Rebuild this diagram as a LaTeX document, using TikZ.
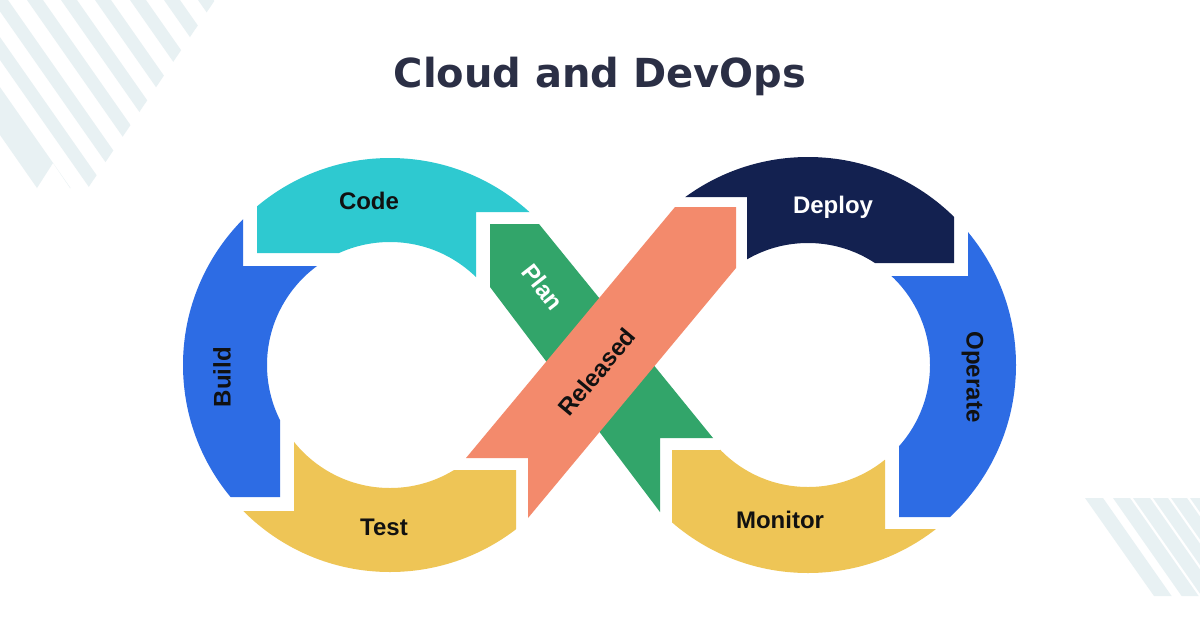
\documentclass[tikz,border=0pt]{standalone}
\usepackage{fontspec}
\setmainfont{Liberation Sans}
\newfontfamily\headfont{DejaVu Sans}
\usepackage{tikz}

\definecolor{stripe}{RGB}{232,241,243}
\definecolor{titleink}{RGB}{43,47,69}
\definecolor{labelink}{RGB}{17,17,17}
\definecolor{codecyan}{RGB}{46,201,208}
\definecolor{buildblue}{RGB}{45,108,228}
\definecolor{testyellow}{RGB}{238,197,86}
\definecolor{plangreen}{RGB}{50,165,106}
\definecolor{releasedorange}{RGB}{243,138,108}
\definecolor{deploynavy}{RGB}{19,33,80}

\begin{document}
\begin{tikzpicture}[x=1pt,y=-1pt]
\tikzset{every node/.style={inner sep=0pt}}
\tikzset{phase/.style={font=\bfseries\fontsize{24}{28}\selectfont,text=labelink,text height=17pt,text depth=0pt}}
\tikzset{ring/.style={even odd rule}}

\fill[white] (0,0) rectangle (1200,630);
\useasboundingbox (0,0) rectangle (1200,630);

% stripes in the corners
\begin{scope}
\clip (0,0) -- (215,0) -- (88,188) -- (70,188) -- (53,163) -- (37,188) -- (0,135) -- cycle;
\foreach \a/\b in {-95/-61,-42/-26,-8/8,27/43,61/77,95/111,130/146,164/180,198/214}
  \fill[stripe] (\a,0) -- (\b,0) -- ({\b+140},200) -- ({\a+140},200) -- cycle;
\end{scope}
\begin{scope}
\clip (1085,498) -- (1200,498) -- (1200,596) -- (1154,596) -- cycle;
\foreach \a/\b in {1085/1103,1113/1130,1133/1150,1153/1168,1171/1187,1190/1206}
  \fill[stripe] (\a,498) -- (\b,498) -- ({\b+70},598) -- ({\a+70},598) -- cycle;
\end{scope}

\node[anchor=base,font=\headfont\bfseries\fontsize{40}{48}\selectfont,text=titleink] (title) at (600,87) {Cloud and DevOps};

\coordinate (lc) at (390,365);
\coordinate (rc) at (808,365);

% left loop
\begin{scope}
\clip (257,100) -- (257,253) -- (339,253) -- (lc) -- (476,277) -- (476,212) -- (600,212) -- (600,100) -- cycle;
\fill[codecyan,ring] (lc) circle (207pt) (lc) circle (123pt);
\end{scope}
\begin{scope}
\clip (243,100) -- (243,266) -- (317,266) -- (lc) -- (280,420) -- (280,497) -- (100,497) -- (100,100) -- cycle;
\fill[buildblue,ring] (lc) circle (207pt) (lc) circle (123pt);
\end{scope}
\begin{scope}
\clip (100,511) -- (294,511) -- (294,442) -- (lc) -- (454,470) -- (516,470) -- (516,630) -- (100,630) -- cycle;
\fill[testyellow,ring] (lc) circle (207pt) (lc) circle (123pt);
\end{scope}

% right loop
\begin{scope}
\clip (650,100) -- (650,197) -- (747,197) -- (747,259) -- (rc) -- (875,263) -- (954,263) -- (954,100) -- cycle;
\fill[deploynavy,ring] (rc) circle (208pt) (rc) circle (122pt);
\end{scope}
\begin{scope}
\clip (968,100) -- (968,276) -- (891,276) -- (rc) -- (899,446) -- (899,517) -- (1100,517) -- (1100,100) -- cycle;
\fill[buildblue,ring] (rc) circle (208pt) (rc) circle (122pt);
\end{scope}
\begin{scope}
\clip (672,630) -- (672,450) -- (720,450) -- (rc) -- (885,460) -- (885,529) -- (1100,529) -- (1100,630) -- cycle;
\fill[testyellow,ring] (rc) circle (208pt) (rc) circle (122pt);
\end{scope}

% crossing bands
\fill[plangreen] (490,224) -- (539,224) -- (713,438) -- (660,438) -- (660,512) -- (490,287) -- cycle;
\fill[releasedorange] (675,207) -- (736,207) -- (736,268) -- (528,518) -- (528,458) -- (466,458) -- cycle;

\node[phase] (code) at (369,201) {Code};
\node[phase,rotate=90] (build) at (222,377) {Build};
\node[phase] (test) at (384,527) {Test};
\node[phase,text=white,rotate=-52] (plan) at (543,287) {Plan};
\node[phase,rotate=50] (released) at (597,372) {Released};
\node[phase,text=white] (deploy) at (833,205) {Deploy};
\node[phase,rotate=-90] (operate) at (975,377) {Operate};
\node[phase] (monitor) at (780,520) {Monitor};
\end{tikzpicture}
\end{document}
